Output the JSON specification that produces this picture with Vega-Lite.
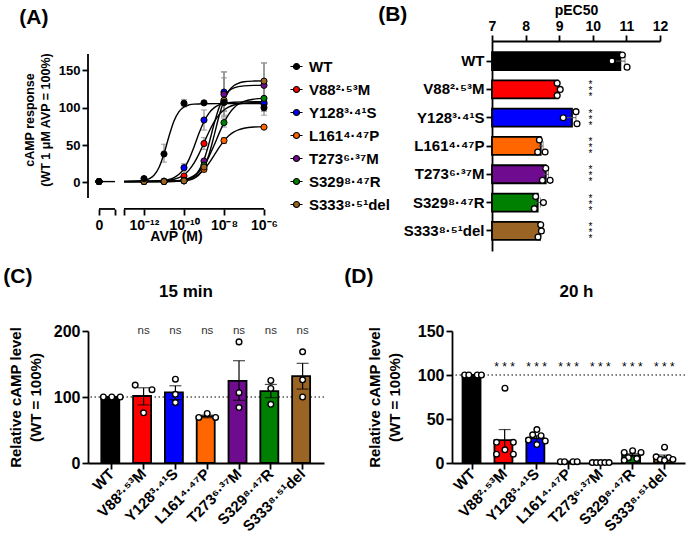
{
"$schema": "https://vega.github.io/schema/vega-lite/v6.json",
"padding": {"left": 3, "top": 3, "right": 0, "bottom": 0},
"config": {
  "font": "Liberation Sans",
  "view": {"stroke": null},
  "axis": {"labelFont": "Liberation Sans", "labelFontWeight": "bold", "labelColor": "#000", "titleFont": "Liberation Sans", "titleFontWeight": "bold", "titleColor": "#000", "domainColor": "#000", "tickColor": "#000", "domainWidth": 1.8, "tickWidth": 1.8, "grid": false, "labelFontSize": 14, "titleFontSize": 14, "tickSize": 6},
  "title": {"font": "Liberation Sans", "fontWeight": "bold", "color": "#000"},
  "text": {"font": "Liberation Sans"}
},
"datasets": {
  "apts": [
    {"g":"V88²·⁵³M","lx":-14.25,"y":1},{"g":"V88²·⁵³M","lx":-12,"y":1},{"g":"V88²·⁵³M","lx":-11,"y":1.5},{"g":"V88²·⁵³M","lx":-10,"y":8.5},{"g":"V88²·⁵³M","lx":-9,"y":52},{"g":"V88²·⁵³M","lx":-8,"y":108},{"g":"V88²·⁵³M","lx":-6,"y":105},
    {"g":"Y128³·⁴¹S","lx":-14.25,"y":1},{"g":"Y128³·⁴¹S","lx":-12,"y":1.5},{"g":"Y128³·⁴¹S","lx":-11,"y":1.5},{"g":"Y128³·⁴¹S","lx":-10,"y":19.6},{"g":"Y128³·⁴¹S","lx":-9,"y":83.5},{"g":"Y128³·⁴¹S","lx":-8,"y":121},{"g":"Y128³·⁴¹S","lx":-6,"y":107},
    {"g":"L161⁴·⁴⁷P","lx":-14.25,"y":1},{"g":"L161⁴·⁴⁷P","lx":-12,"y":1},{"g":"L161⁴·⁴⁷P","lx":-11,"y":1},{"g":"L161⁴·⁴⁷P","lx":-10,"y":2.7},{"g":"L161⁴·⁴⁷P","lx":-9,"y":17.4},{"g":"L161⁴·⁴⁷P","lx":-8,"y":56},{"g":"L161⁴·⁴⁷P","lx":-6,"y":74},
    {"g":"T273⁶·³⁷M","lx":-14.25,"y":1},{"g":"T273⁶·³⁷M","lx":-12,"y":1},{"g":"T273⁶·³⁷M","lx":-11,"y":1},{"g":"T273⁶·³⁷M","lx":-10,"y":2},{"g":"T273⁶·³⁷M","lx":-9,"y":28.6},{"g":"T273⁶·³⁷M","lx":-8,"y":118},{"g":"T273⁶·³⁷M","lx":-6,"y":130},
    {"g":"S329⁸·⁴⁷R","lx":-14.25,"y":1},{"g":"S329⁸·⁴⁷R","lx":-12,"y":1},{"g":"S329⁸·⁴⁷R","lx":-11,"y":1},{"g":"S329⁸·⁴⁷R","lx":-10,"y":2},{"g":"S329⁸·⁴⁷R","lx":-9,"y":23},{"g":"S329⁸·⁴⁷R","lx":-8,"y":80},{"g":"S329⁸·⁴⁷R","lx":-6,"y":112.5},
    {"g":"S333⁸·⁵¹del","lx":-14.25,"y":1},{"g":"S333⁸·⁵¹del","lx":-12,"y":1},{"g":"S333⁸·⁵¹del","lx":-11,"y":1},{"g":"S333⁸·⁵¹del","lx":-10,"y":2},{"g":"S333⁸·⁵¹del","lx":-9,"y":20.5},{"g":"S333⁸·⁵¹del","lx":-8,"y":110},{"g":"S333⁸·⁵¹del","lx":-6,"y":135.7},
    {"g":"WT","lx":-14.25,"y":1},{"g":"WT","lx":-12,"y":5},{"g":"WT","lx":-11,"y":38},{"g":"WT","lx":-10,"y":106},{"g":"WT","lx":-9,"y":106.5},{"g":"WT","lx":-8,"y":107},{"g":"WT","lx":-6,"y":100}
  ],
  "aerr": [
    {"lx":-11,"lo":27,"hi":51},{"lx":-10,"lo":101,"hi":111},{"lx":-6,"lo":90,"hi":110},
    {"lx":-9,"lo":44,"hi":60},{"lx":-8,"lo":96,"hi":120},{"lx":-6,"lo":96,"hi":114},
    {"lx":-10,"lo":15,"hi":25},{"lx":-9,"lo":70,"hi":97},{"lx":-8,"lo":95,"hi":148},
    {"lx":-9,"lo":14,"hi":21},{"lx":-8,"lo":52,"hi":60},
    {"lx":-8,"lo":88,"hi":148},{"lx":-6,"lo":100,"hi":160},
    {"lx":-8,"lo":74,"hi":86},{"lx":-6,"lo":95,"hi":130},
    {"lx":-8,"lo":90,"hi":140},{"lx":-6,"lo":112,"hi":160}
  ],
  "acurve": [
    {"c":"WT0","lx":-14.4,"y":1},{"c":"WT0","lx":-13.45,"y":1},
    {"c":"WT","lx":-13,"y":1},{"c":"WT","lx":-12.5,"y":1.2},{"c":"WT","lx":-12,"y":2.4},{"c":"WT","lx":-11.75,"y":4.5},{"c":"WT","lx":-11.5,"y":9.4},{"c":"WT","lx":-11.25,"y":19.9},{"c":"WT","lx":-11,"y":38.3},{"c":"WT","lx":-10.75,"y":61.8},{"c":"WT","lx":-10.5,"y":82.3},{"c":"WT","lx":-10.25,"y":94.8},{"c":"WT","lx":-10,"y":101},{"c":"WT","lx":-9.75,"y":103.7},{"c":"WT","lx":-9.5,"y":104.8},{"c":"WT","lx":-9,"y":105.3},{"c":"WT","lx":-8,"y":105.5},{"c":"WT","lx":-7,"y":105.5},{"c":"WT","lx":-6,"y":105.5},
    {"c":"V88","lx":-13,"y":1},{"c":"V88","lx":-12,"y":1.1},{"c":"V88","lx":-11,"y":2},{"c":"V88","lx":-10.5,"y":4.1},{"c":"V88","lx":-10.25,"y":6.4},{"c":"V88","lx":-10,"y":10.2},{"c":"V88","lx":-9.75,"y":16.4},{"c":"V88","lx":-9.5,"y":25.6},{"c":"V88","lx":-9.25,"y":38.1},{"c":"V88","lx":-9,"y":52.8},{"c":"V88","lx":-8.75,"y":67.7},{"c":"V88","lx":-8.5,"y":80.6},{"c":"V88","lx":-8.25,"y":90.4},{"c":"V88","lx":-8,"y":96.9},{"c":"V88","lx":-7.75,"y":101.1},{"c":"V88","lx":-7.5,"y":103.6},{"c":"V88","lx":-7,"y":105.9},{"c":"V88","lx":-6.5,"y":106.7},{"c":"V88","lx":-6,"y":107},
    {"c":"Y128","lx":-13,"y":1.5},{"c":"Y128","lx":-12,"y":1.6},{"c":"Y128","lx":-11.5,"y":1.8},{"c":"Y128","lx":-11,"y":2.8},{"c":"Y128","lx":-10.75,"y":4},{"c":"Y128","lx":-10.5,"y":6.4},{"c":"Y128","lx":-10.25,"y":10.8},{"c":"Y128","lx":-10,"y":18.5},{"c":"Y128","lx":-9.75,"y":30.8},{"c":"Y128","lx":-9.5,"y":47.4},{"c":"Y128","lx":-9.25,"y":65.7},{"c":"Y128","lx":-9,"y":81.5},{"c":"Y128","lx":-8.75,"y":92.8},{"c":"Y128","lx":-8.5,"y":99.8},{"c":"Y128","lx":-8.25,"y":103.7},{"c":"Y128","lx":-8,"y":105.8},{"c":"Y128","lx":-7.5,"y":107.4},{"c":"Y128","lx":-7,"y":107.8},{"c":"Y128","lx":-6,"y":108},
    {"c":"L161","lx":-13,"y":1},{"c":"L161","lx":-12,"y":1},{"c":"L161","lx":-11,"y":1.2},{"c":"L161","lx":-10.5,"y":1.7},{"c":"L161","lx":-10,"y":3},{"c":"L161","lx":-9.75,"y":4.5},{"c":"L161","lx":-9.5,"y":7.1},{"c":"L161","lx":-9.25,"y":11.1},{"c":"L161","lx":-9,"y":17.3},{"c":"L161","lx":-8.75,"y":25.7},{"c":"L161","lx":-8.5,"y":35.9},{"c":"L161","lx":-8.25,"y":46.4},{"c":"L161","lx":-8,"y":55.6},{"c":"L161","lx":-7.75,"y":62.7},{"c":"L161","lx":-7.5,"y":67.5},{"c":"L161","lx":-7.25,"y":70.6},{"c":"L161","lx":-7,"y":72.5},{"c":"L161","lx":-6.5,"y":74.2},{"c":"L161","lx":-6,"y":74.7},
    {"c":"T273","lx":-13,"y":1},{"c":"T273","lx":-12,"y":1},{"c":"T273","lx":-11,"y":1},{"c":"T273","lx":-10.5,"y":1.3},{"c":"T273","lx":-10,"y":2.5},{"c":"T273","lx":-9.75,"y":4.3},{"c":"T273","lx":-9.5,"y":8.1},{"c":"T273","lx":-9.25,"y":16},{"c":"T273","lx":-9,"y":30.3},{"c":"T273","lx":-8.75,"y":52.2},{"c":"T273","lx":-8.5,"y":77.8},{"c":"T273","lx":-8.25,"y":100},{"c":"T273","lx":-8,"y":114.6},{"c":"T273","lx":-7.75,"y":122.6},{"c":"T273","lx":-7.5,"y":126.6},{"c":"T273","lx":-7,"y":129.3},{"c":"T273","lx":-6.5,"y":129.9},{"c":"T273","lx":-6,"y":130},
    {"c":"S329","lx":-13,"y":1},{"c":"S329","lx":-12,"y":1.1},{"c":"S329","lx":-11,"y":1.3},{"c":"S329","lx":-10.5,"y":1.8},{"c":"S329","lx":-10,"y":3.6},{"c":"S329","lx":-9.75,"y":5.6},{"c":"S329","lx":-9.5,"y":8.9},{"c":"S329","lx":-9.25,"y":14.3},{"c":"S329","lx":-9,"y":22.7},{"c":"S329","lx":-8.75,"y":34.5},{"c":"S329","lx":-8.5,"y":49.3},{"c":"S329","lx":-8.25,"y":65.3},{"c":"S329","lx":-8,"y":80},{"c":"S329","lx":-7.75,"y":91.8},{"c":"S329","lx":-7.5,"y":99.9},{"c":"S329","lx":-7.25,"y":105.3},{"c":"S329","lx":-7,"y":108.5},{"c":"S329","lx":-6.5,"y":111.5},{"c":"S329","lx":-6,"y":112.5},
    {"c":"S333","lx":-13,"y":1},{"c":"S333","lx":-12,"y":1},{"c":"S333","lx":-11,"y":1.05},{"c":"S333","lx":-10.5,"y":1.2},{"c":"S333","lx":-10,"y":1.9},{"c":"S333","lx":-9.75,"y":3},{"c":"S333","lx":-9.5,"y":5.3},{"c":"S333","lx":-9.25,"y":10.2},{"c":"S333","lx":-9,"y":20.1},{"c":"S333","lx":-8.75,"y":37.3},{"c":"S333","lx":-8.5,"y":62},{"c":"S333","lx":-8.25,"y":88.5},{"c":"S333","lx":-8,"y":109.7},{"c":"S333","lx":-7.75,"y":122.8},{"c":"S333","lx":-7.5,"y":129.8},{"c":"S333","lx":-7.25,"y":133.1},{"c":"S333","lx":-7,"y":134.7},{"c":"S333","lx":-6.5,"y":135.7},{"c":"S333","lx":-6,"y":136}
  ],
  "aaxis": [{"x1":-14.25,"x2":-13.45,"yv":-35.7},{"x1":-13,"x2":-6,"yv":-35.7}],
  "ayaxis": [{"xv":-14.8,"y1":-21,"y2":172}],
  "bbar": [
    {"g":"WT","mean":10.82,"lo":10.68,"hi":10.96},
    {"g":"V88²·⁵³M","mean":8.96,"lo":8.93,"hi":9.0},
    {"g":"Y128³·⁴¹S","mean":9.38,"lo":9.22,"hi":9.5},
    {"g":"L161⁴·⁴⁷P","mean":8.45,"lo":8.38,"hi":8.52},
    {"g":"T273⁶·³⁷M","mean":8.6,"lo":8.52,"hi":8.68},
    {"g":"S329⁸·⁴⁷R","mean":8.36,"lo":8.28,"hi":8.44},
    {"g":"S333⁸·⁵¹del","mean":8.43,"lo":8.4,"hi":8.46}
  ],
  "bpts": [
    {"g":"WT","s":"t","v":10.88},{"g":"WT","s":"m","v":10.57},{"g":"WT","s":"b","v":11.02},
    {"g":"V88²·⁵³M","s":"t","v":8.94},{"g":"V88²·⁵³M","s":"m","v":9.03},{"g":"V88²·⁵³M","s":"b","v":8.94},
    {"g":"Y128³·⁴¹S","s":"t","v":9.5},{"g":"Y128³·⁴¹S","s":"m","v":9.12},{"g":"Y128³·⁴¹S","s":"b","v":9.53},
    {"g":"L161⁴·⁴⁷P","s":"t","v":8.41},{"g":"L161⁴·⁴⁷P","s":"b","v":8.36},{"g":"L161⁴·⁴⁷P","s":"b","v":8.58},
    {"g":"T273⁶·³⁷M","s":"t","v":8.6},{"g":"T273⁶·³⁷M","s":"b","v":8.5},{"g":"T273⁶·³⁷M","s":"b","v":8.73},
    {"g":"S329⁸·⁴⁷R","s":"t","v":8.3},{"g":"S329⁸·⁴⁷R","s":"m","v":8.53},{"g":"S329⁸·⁴⁷R","s":"b","v":8.26},
    {"g":"S333⁸·⁵¹del","s":"t","v":8.45},{"g":"S333⁸·⁵¹del","s":"m","v":8.47},{"g":"S333⁸·⁵¹del","s":"b","v":8.37}
  ],
  "bstar": [
    {"g":"V88²·⁵³M","s":"t"},{"g":"V88²·⁵³M","s":"m"},{"g":"V88²·⁵³M","s":"b"},
    {"g":"Y128³·⁴¹S","s":"t"},{"g":"Y128³·⁴¹S","s":"m"},{"g":"Y128³·⁴¹S","s":"b"},
    {"g":"L161⁴·⁴⁷P","s":"t"},{"g":"L161⁴·⁴⁷P","s":"m"},{"g":"L161⁴·⁴⁷P","s":"b"},
    {"g":"T273⁶·³⁷M","s":"t"},{"g":"T273⁶·³⁷M","s":"m"},{"g":"T273⁶·³⁷M","s":"b"},
    {"g":"S329⁸·⁴⁷R","s":"t"},{"g":"S329⁸·⁴⁷R","s":"m"},{"g":"S329⁸·⁴⁷R","s":"b"},
    {"g":"S333⁸·⁵¹del","s":"t"},{"g":"S333⁸·⁵¹del","s":"m"},{"g":"S333⁸·⁵¹del","s":"b"}
  ],
  "cbar": [
    {"g":"WT","mean":100,"lo":null,"hi":null,"note":""},
    {"g":"V88²·⁵³M","mean":101.5,"lo":88,"hi":114,"note":"ns"},
    {"g":"Y128³·⁴¹S","mean":107,"lo":96,"hi":117,"note":"ns"},
    {"g":"L161⁴·⁴⁷P","mean":70.5,"lo":68.5,"hi":72.5,"note":"ns"},
    {"g":"T273⁶·³⁷M","mean":124.5,"lo":95,"hi":155,"note":"ns"},
    {"g":"S329⁸·⁴⁷R","mean":109,"lo":99,"hi":119,"note":"ns"},
    {"g":"S333⁸·⁵¹del","mean":131.5,"lo":112,"hi":151,"note":"ns"}
  ],
  "cpts": [
    {"g":"WT","j":"a","v":100},{"g":"WT","j":"c","v":100},{"g":"WT","j":"e","v":100},
    {"g":"V88²·⁵³M","j":"a","v":118},{"g":"V88²·⁵³M","j":"c","v":76},{"g":"V88²·⁵³M","j":"e","v":111},
    {"g":"Y128³·⁴¹S","j":"c","v":127},{"g":"Y128³·⁴¹S","j":"c","v":104},{"g":"Y128³·⁴¹S","j":"c","v":91.5},
    {"g":"L161⁴·⁴⁷P","j":"a","v":69},{"g":"L161⁴·⁴⁷P","j":"c","v":75},{"g":"L161⁴·⁴⁷P","j":"e","v":69},
    {"g":"T273⁶·³⁷M","j":"c","v":183.5},{"g":"T273⁶·³⁷M","j":"c","v":106.5},{"g":"T273⁶·³⁷M","j":"c","v":84},
    {"g":"S329⁸·⁴⁷R","j":"c","v":125},{"g":"S329⁸·⁴⁷R","j":"c","v":113},{"g":"S329⁸·⁴⁷R","j":"c","v":89},
    {"g":"S333⁸·⁵¹del","j":"c","v":168.5},{"g":"S333⁸·⁵¹del","j":"c","v":126},{"g":"S333⁸·⁵¹del","j":"c","v":100}
  ],
  "dbar": [
    {"g":"WT","mean":100,"lo":null,"hi":null,"note":""},
    {"g":"V88²·⁵³M","mean":26,"lo":14,"hi":38,"note":"* * *"},
    {"g":"Y128³·⁴¹S","mean":28,"lo":25,"hi":31,"note":"* * *"},
    {"g":"L161⁴·⁴⁷P","mean":1.5,"lo":1,"hi":2,"note":"* * *"},
    {"g":"T273⁶·³⁷M","mean":0.5,"lo":0.3,"hi":0.7,"note":"* * *"},
    {"g":"S329⁸·⁴⁷R","mean":8.5,"lo":6.5,"hi":10.5,"note":"* * *"},
    {"g":"S333⁸·⁵¹del","mean":6.5,"lo":4.5,"hi":9,"note":"* * *"}
  ],
  "dpts": [
    {"g":"WT","j":"a","v":100},{"g":"WT","j":"b","v":100},{"g":"WT","j":"d","v":100},{"g":"WT","j":"e","v":100},
    {"g":"V88²·⁵³M","j":"c","v":85},{"g":"V88²·⁵³M","j":"a","v":23.5},{"g":"V88²·⁵³M","j":"e","v":23.5},{"g":"V88²·⁵³M","j":"c","v":15},{"g":"V88²·⁵³M","j":"a","v":10},{"g":"V88²·⁵³M","j":"e","v":10},
    {"g":"Y128³·⁴¹S","j":"c","v":38},{"g":"Y128³·⁴¹S","j":"b","v":32},{"g":"Y128³·⁴¹S","j":"d","v":31},{"g":"Y128³·⁴¹S","j":"a","v":26},{"g":"Y128³·⁴¹S","j":"e","v":25},{"g":"Y128³·⁴¹S","j":"c","v":21},
    {"g":"L161⁴·⁴⁷P","j":"a","v":1.5},{"g":"L161⁴·⁴⁷P","j":"b","v":1.5},{"g":"L161⁴·⁴⁷P","j":"d","v":1.5},{"g":"L161⁴·⁴⁷P","j":"e","v":1.5},
    {"g":"T273⁶·³⁷M","j":"a","v":0.5},{"g":"T273⁶·³⁷M","j":"b","v":0.5},{"g":"T273⁶·³⁷M","j":"c","v":0.5},{"g":"T273⁶·³⁷M","j":"d","v":0.5},{"g":"T273⁶·³⁷M","j":"e","v":0.5},
    {"g":"S329⁸·⁴⁷R","j":"c","v":14},{"g":"S329⁸·⁴⁷R","j":"a","v":12},{"g":"S329⁸·⁴⁷R","j":"e","v":12},{"g":"S329⁸·⁴⁷R","j":"b","v":6},{"g":"S329⁸·⁴⁷R","j":"d","v":5},{"g":"S329⁸·⁴⁷R","j":"a","v":3},
    {"g":"S333⁸·⁵¹del","j":"c","v":18},{"g":"S333⁸·⁵¹del","j":"a","v":7},{"g":"S333⁸·⁵¹del","j":"d","v":6},{"g":"S333⁸·⁵¹del","j":"b","v":4},{"g":"S333⁸·⁵¹del","j":"e","v":4},{"g":"S333⁸·⁵¹del","j":"c","v":3}
  ]
},
"resolve": {"scale": {"color": "independent"}, "legend": {"color": "independent"}},
"spacing": 15,
"vconcat": [
 {
  "spacing": -12,
  "resolve": {"scale": {"color": "independent"}, "legend": {"color": "independent"}},
  "hconcat": [
   {
    "title": {"text": "(A)", "anchor": "start", "fontSize": 21, "offset": 13, "dx": -4},
    "resolve": {"scale": {"color": "independent"}, "legend": {"color": "independent"}},
    "vconcat": [
     {
      "width": 176, "height": 157,
      "resolve": {"axis": {"x": "independent"}},
      "layer": [
       {"data": {"name": "aerr"}, "mark": {"type": "rule", "color": "#8a8a8a", "strokeWidth": 1.2},
        "encoding": {
          "x": {"field": "lx", "type": "quantitative", "scale": {"domain": [-14.8, -6], "nice": false, "zero": false},
                "axis": {"orient": "bottom", "values": [-14.25, -10, -6], "domain": false, "offset": 11, "title": "AVP (M)", "titlePadding": -3, "titleFontSize": 14,
                         "labelExpr": "datum.value < -14 ? '0' : datum.value == -10 ? '10⁻¹⁰' : '10⁻⁶'", "labelFontSize": 14, "labelPadding": 3, "labelFlush": false}},
          "y": {"field": "lo", "type": "quantitative", "scale": {"domain": [-21, 189.4], "nice": false, "zero": false},
                "axis": {"values": [0, 50, 100, 150], "domain": false, "title": ["cAMP response", "(WT 1 μM AVP = 100%)"], "titleFontSize": 12.5, "titleLineHeight": 16, "labelFontSize": 13, "titlePadding": 6}},
          "y2": {"field": "hi"}
        }},
       {"data": {"name": "aerr"}, "mark": {"type": "tick", "color": "#8a8a8a", "thickness": 1.2, "size": 6, "orient": "horizontal"},
        "encoding": {"x": {"field": "lx", "type": "quantitative",
                "axis": {"orient": "bottom", "values": [-12, -8], "domain": false, "offset": 11, "title": null,
                         "labelExpr": "datum.value == -12 ? '10⁻¹²' : '10⁻⁸'", "labelFontSize": 14, "labelPadding": 3, "labelFlush": false}},
          "y": {"field": "hi", "type": "quantitative"}}},
       {"data": {"name": "aerr"}, "mark": {"type": "tick", "color": "#8a8a8a", "thickness": 1.2, "size": 6, "orient": "horizontal"},
        "encoding": {"x": {"field": "lx", "type": "quantitative",
                "axis": {"orient": "bottom", "values": [-13.45, -13], "domain": false, "offset": 11, "title": null, "labels": false}},
          "y": {"field": "lo", "type": "quantitative"}}},
       {"data": {"name": "acurve"}, "mark": {"type": "line", "color": "#000", "strokeWidth": 1.4, "interpolate": "monotone"},
        "encoding": {"x": {"field": "lx", "type": "quantitative", "axis": null}, "y": {"field": "y", "type": "quantitative"}, "detail": {"field": "c"}}},
       {"data": {"name": "apts"}, "mark": {"type": "point", "filled": true, "size": 38, "stroke": "#000", "strokeWidth": 1, "opacity": 1},
        "encoding": {"x": {"field": "lx", "type": "quantitative", "axis": null}, "y": {"field": "y", "type": "quantitative"},
          "color": {"field": "g", "type": "nominal",
            "scale": {"domain": ["WT","V88²·⁵³M","Y128³·⁴¹S","L161⁴·⁴⁷P","T273⁶·³⁷M","S329⁸·⁴⁷R","S333⁸·⁵¹del"], "range": ["#000000","#ff0000","#0000ff","#ff6600","#6e0b8f","#008000","#9a6424"]},
            "legend": {"title": null, "orient": "none", "legendX": 201, "legendY": 18, "symbolType": "M-1,0L-0.5,0M0.5,0L1,0M-0.5,0A0.5,0.5,0,1,1,0.5,0A0.5,0.5,0,1,1,-0.5,0Z", "symbolSize": 144, "symbolStrokeColor": "#000", "symbolStrokeWidth": 1.2, "labelFontSize": 15, "labelFontWeight": "bold", "labelFont": "Liberation Sans", "labelColor": "#000", "rowPadding": 7, "labelOffset": 5, "labelLimit": 200, "padding": 0}}}},
       {"data": {"name": "aaxis"}, "mark": {"type": "rule", "color": "#000", "strokeWidth": 1.8},
        "encoding": {"x": {"field": "x1", "type": "quantitative", "axis": null}, "x2": {"field": "x2"}, "y": {"field": "yv", "type": "quantitative"}}},
       {"data": {"name": "ayaxis"}, "mark": {"type": "rule", "color": "#000", "strokeWidth": 1.8},
        "encoding": {"x": {"field": "xv", "type": "quantitative", "axis": null}, "y": {"field": "y1", "type": "quantitative"}, "y2": {"field": "y2"}}}
      ]
     }
    ]
   },
   {
    "width": 168, "height": 210,
    "title": {"text": "(B)", "anchor": "start", "frame": "bounds", "fontSize": 21, "offset": -22, "dx": -25},
    "resolve": {"axis": {"x": "independent"}},
    "layer": [
     {"data": {"name": "bbar"}, "mark": {"type": "bar", "stroke": "#000", "strokeWidth": 1.8},
      "encoding": {
        "y": {"field": "g", "type": "nominal", "sort": ["WT","V88²·⁵³M","Y128³·⁴¹S","L161⁴·⁴⁷P","T273⁶·³⁷M","S329⁸·⁴⁷R","S333⁸·⁵¹del"],
              "scale": {"paddingInner": 0.36, "paddingOuter": 0.39}, "axis": {"title": null, "labelFontSize": 15, "labelPadding": 2, "labelLimit": 200}},
        "x": {"field": "mean", "type": "quantitative", "scale": {"domain": [7, 12], "nice": false, "zero": false},
              "axis": {"orient": "top", "values": [7, 9, 11], "title": "pEC50", "titleFontSize": 14, "labelFontSize": 14, "titlePadding": 2, "labelPadding": 2, "labelFlush": false}},
        "x2": {"datum": 7},
        "color": {"field": "g", "type": "nominal", "legend": null,
          "scale": {"domain": ["WT","V88²·⁵³M","Y128³·⁴¹S","L161⁴·⁴⁷P","T273⁶·³⁷M","S329⁸·⁴⁷R","S333⁸·⁵¹del"], "range": ["#000000","#ff0000","#0000ff","#ff6600","#6e0b8f","#008000","#9a6424"]}}
      }},
     {"data": {"name": "bbar"}, "mark": {"type": "rule", "color": "#555", "strokeWidth": 1},
      "encoding": {"y": {"field": "g", "type": "nominal", "sort": ["WT","V88²·⁵³M","Y128³·⁴¹S","L161⁴·⁴⁷P","T273⁶·³⁷M","S329⁸·⁴⁷R","S333⁸·⁵¹del"]},
        "x": {"field": "lo", "type": "quantitative", "axis": {"orient": "top", "values": [8, 10, 12], "title": null, "domain": false, "labelFontSize": 14, "labelPadding": 2, "labelFlush": false}}, "x2": {"field": "hi"}}},
     {"data": {"name": "bbar"}, "mark": {"type": "tick", "color": "#555", "thickness": 1, "size": 10},
      "encoding": {"y": {"field": "g", "type": "nominal", "sort": ["WT","V88²·⁵³M","Y128³·⁴¹S","L161⁴·⁴⁷P","T273⁶·³⁷M","S329⁸·⁴⁷R","S333⁸·⁵¹del"]}, "x": {"field": "hi", "type": "quantitative", "axis": null}}},
     {"data": {"name": "bpts"}, "mark": {"type": "point", "filled": true, "fill": "#fff", "stroke": "#000", "strokeWidth": 1.3, "size": 34, "opacity": 1},
      "encoding": {"y": {"field": "g", "type": "nominal", "sort": ["WT","V88²·⁵³M","Y128³·⁴¹S","L161⁴·⁴⁷P","T273⁶·³⁷M","S329⁸·⁴⁷R","S333⁸·⁵¹del"]}, "x": {"field": "v", "type": "quantitative", "axis": null},
        "yOffset": {"field": "s", "type": "nominal", "scale": {"domain": ["t", "m", "b"]}}}},
     {"data": {"name": "bstar"}, "mark": {"type": "text", "text": "*", "fontSize": 10, "color": "#000", "baseline": "middle", "dy": 2},
      "encoding": {"y": {"field": "g", "type": "nominal", "sort": ["WT","V88²·⁵³M","Y128³·⁴¹S","L161⁴·⁴⁷P","T273⁶·³⁷M","S329⁸·⁴⁷R","S333⁸·⁵¹del"]}, "x": {"datum": 9.93, "type": "quantitative", "axis": null},
        "yOffset": {"field": "s", "type": "nominal", "scale": {"domain": ["t", "m", "b"]}}}}
    ]
   }
  ]
 },
 {
  "spacing": 19,
  "resolve": {"scale": {"color": "independent"}, "legend": {"color": "independent"}},
  "hconcat": [
   {
    "title": {"text": "(C)", "anchor": "start", "fontSize": 21, "offset": -4, "dx": -5},
    "resolve": {"scale": {"color": "independent"}, "legend": {"color": "independent"}},
    "vconcat": [
     {
      "width": 236, "height": 132,
      "title": {"text": "15 min", "fontSize": 17, "anchor": "middle", "frame": "group", "offset": 22, "dx": -20},
      "layer": [
       {"data": {"values": [{}]}, "mark": {"type": "rule", "strokeDash": [1.5, 2.5], "strokeWidth": 1.2, "color": "#000"},
        "encoding": {"y": {"datum": 100, "type": "quantitative"}}},
       {"data": {"name": "cbar"}, "mark": {"type": "bar", "stroke": "#000", "strokeWidth": 1.8},
        "encoding": {
          "x": {"field": "g", "type": "nominal", "sort": ["WT","V88²·⁵³M","Y128³·⁴¹S","L161⁴·⁴⁷P","T273⁶·³⁷M","S329⁸·⁴⁷R","S333⁸·⁵¹del"],
                "scale": {"paddingInner": 0.34, "paddingOuter": 0.38, "align": 0.55},
                "axis": {"title": null, "labelAngle": -45, "labelAlign": "right", "labelBaseline": "middle", "labelFontSize": 15, "labelPadding": 2, "labelLimit": 200}},
          "y": {"field": "mean", "type": "quantitative", "scale": {"domain": [0, 200], "nice": false},
                "axis": {"values": [0, 50, 100, 150, 200], "title": ["Relative cAMP level", "(WT = 100%)"], "titleFontSize": 15, "titleLineHeight": 20, "labelFontSize": 16, "titlePadding": 10}},
          "color": {"field": "g", "type": "nominal", "legend": null,
            "scale": {"domain": ["WT","V88²·⁵³M","Y128³·⁴¹S","L161⁴·⁴⁷P","T273⁶·³⁷M","S329⁸·⁴⁷R","S333⁸·⁵¹del"], "range": ["#000000","#ff0000","#0000ff","#ff6600","#6e0b8f","#008000","#9a6424"]}}
        }},
       {"data": {"name": "cbar"}, "mark": {"type": "rule", "color": "#000", "strokeWidth": 1.2},
        "encoding": {"x": {"field": "g", "type": "nominal", "sort": ["WT","V88²·⁵³M","Y128³·⁴¹S","L161⁴·⁴⁷P","T273⁶·³⁷M","S329⁸·⁴⁷R","S333⁸·⁵¹del"]}, "y": {"field": "lo", "type": "quantitative"}, "y2": {"field": "hi"}}},
       {"data": {"name": "cbar"}, "mark": {"type": "tick", "color": "#000", "thickness": 1.2, "size": 12},
        "encoding": {"x": {"field": "g", "type": "nominal", "sort": ["WT","V88²·⁵³M","Y128³·⁴¹S","L161⁴·⁴⁷P","T273⁶·³⁷M","S329⁸·⁴⁷R","S333⁸·⁵¹del"]}, "y": {"field": "lo", "type": "quantitative"}}},
       {"data": {"name": "cbar"}, "mark": {"type": "tick", "color": "#000", "thickness": 1.2, "size": 12},
        "encoding": {"x": {"field": "g", "type": "nominal", "sort": ["WT","V88²·⁵³M","Y128³·⁴¹S","L161⁴·⁴⁷P","T273⁶·³⁷M","S329⁸·⁴⁷R","S333⁸·⁵¹del"]}, "y": {"field": "hi", "type": "quantitative"}}},
       {"data": {"name": "cpts"}, "mark": {"type": "point", "filled": true, "fill": "#fff", "stroke": "#000", "strokeWidth": 1.4, "size": 32, "opacity": 1},
        "encoding": {"x": {"field": "g", "type": "nominal", "sort": ["WT","V88²·⁵³M","Y128³·⁴¹S","L161⁴·⁴⁷P","T273⁶·³⁷M","S329⁸·⁴⁷R","S333⁸·⁵¹del"]},
          "xOffset": {"field": "j", "type": "nominal", "scale": {"domain": ["a", "b", "c", "d", "e"]}},
          "y": {"field": "v", "type": "quantitative"}}},
       {"data": {"name": "cbar"}, "mark": {"type": "text", "fontSize": 11.5, "color": "#333", "baseline": "middle"},
        "encoding": {"x": {"field": "g", "type": "nominal", "sort": ["WT","V88²·⁵³M","Y128³·⁴¹S","L161⁴·⁴⁷P","T273⁶·³⁷M","S329⁸·⁴⁷R","S333⁸·⁵¹del"]}, "y": {"datum": 200, "type": "quantitative"}, "text": {"field": "note"}}}
      ]
     }
    ]
   },
   {
    "title": {"text": "(D)", "anchor": "start", "fontSize": 21, "offset": -4, "dx": -23},
    "resolve": {"scale": {"color": "independent"}, "legend": {"color": "independent"}},
    "vconcat": [
     {
      "width": 233, "height": 132,
      "title": {"text": "20 h", "fontSize": 17, "anchor": "middle", "frame": "group", "offset": 22, "dx": 8},
      "layer": [
       {"data": {"values": [{}]}, "mark": {"type": "rule", "strokeDash": [1.5, 2.5], "strokeWidth": 1.2, "color": "#000"},
        "encoding": {"y": {"datum": 100, "type": "quantitative"}}},
       {"data": {"name": "dbar"}, "mark": {"type": "bar", "stroke": "#000", "strokeWidth": 1.8},
        "encoding": {
          "x": {"field": "g", "type": "nominal", "sort": ["WT","V88²·⁵³M","Y128³·⁴¹S","L161⁴·⁴⁷P","T273⁶·³⁷M","S329⁸·⁴⁷R","S333⁸·⁵¹del"],
                "scale": {"paddingInner": 0.36, "paddingOuter": 0.33},
                "axis": {"title": null, "labelAngle": -45, "labelAlign": "right", "labelBaseline": "middle", "labelFontSize": 15, "labelPadding": 2, "labelLimit": 200}},
          "y": {"field": "mean", "type": "quantitative", "scale": {"domain": [0, 150], "nice": false},
                "axis": {"values": [0, 50, 100, 150], "title": ["Relative cAMP level", "(WT = 100%)"], "titleFontSize": 15, "titleLineHeight": 20, "labelFontSize": 16, "titlePadding": 15}},
          "color": {"field": "g", "type": "nominal", "legend": null,
            "scale": {"domain": ["WT","V88²·⁵³M","Y128³·⁴¹S","L161⁴·⁴⁷P","T273⁶·³⁷M","S329⁸·⁴⁷R","S333⁸·⁵¹del"], "range": ["#000000","#ff0000","#0000ff","#ff6600","#6e0b8f","#008000","#9a6424"]}}
        }},
       {"data": {"name": "dbar"}, "mark": {"type": "rule", "color": "#000", "strokeWidth": 1.2},
        "encoding": {"x": {"field": "g", "type": "nominal", "sort": ["WT","V88²·⁵³M","Y128³·⁴¹S","L161⁴·⁴⁷P","T273⁶·³⁷M","S329⁸·⁴⁷R","S333⁸·⁵¹del"]}, "y": {"field": "lo", "type": "quantitative"}, "y2": {"field": "hi"}}},
       {"data": {"name": "dbar"}, "mark": {"type": "tick", "color": "#000", "thickness": 1.2, "size": 12},
        "encoding": {"x": {"field": "g", "type": "nominal", "sort": ["WT","V88²·⁵³M","Y128³·⁴¹S","L161⁴·⁴⁷P","T273⁶·³⁷M","S329⁸·⁴⁷R","S333⁸·⁵¹del"]}, "y": {"field": "hi", "type": "quantitative"}}},
       {"data": {"name": "dpts"}, "mark": {"type": "point", "filled": true, "fill": "#fff", "stroke": "#000", "strokeWidth": 1.4, "size": 32, "opacity": 1},
        "encoding": {"x": {"field": "g", "type": "nominal", "sort": ["WT","V88²·⁵³M","Y128³·⁴¹S","L161⁴·⁴⁷P","T273⁶·³⁷M","S329⁸·⁴⁷R","S333⁸·⁵¹del"]},
          "xOffset": {"field": "j", "type": "nominal", "scale": {"domain": ["a", "b", "c", "d", "e"]}},
          "y": {"field": "v", "type": "quantitative"}}},
       {"data": {"name": "dbar"}, "mark": {"type": "text", "fontSize": 12, "color": "#000", "baseline": "middle"},
        "encoding": {"x": {"field": "g", "type": "nominal", "sort": ["WT","V88²·⁵³M","Y128³·⁴¹S","L161⁴·⁴⁷P","T273⁶·³⁷M","S329⁸·⁴⁷R","S333⁸·⁵¹del"]}, "y": {"datum": 109, "type": "quantitative"}, "text": {"field": "note"}}}
      ]
     }
    ]
   }
  ]
 }
]
}
